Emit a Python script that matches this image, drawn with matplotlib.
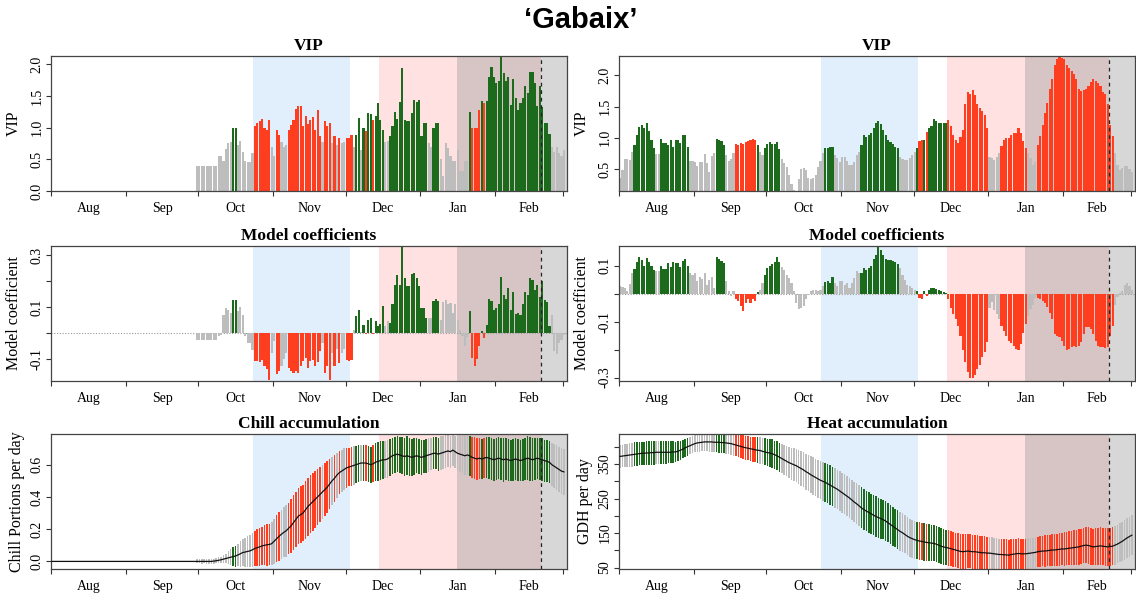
import numpy as np
import matplotlib
matplotlib.use('Agg')
import matplotlib.pyplot as plt

plt.rcParams['font.family'] = ['Liberation Serif', 'DejaVu Serif']

# ---- daily PLS results, day 0 = 1 August, last day = 1 March ----
month_names = ['Aug', 'Sep', 'Oct', 'Nov', 'Dec', 'Jan', 'Feb']
month_starts = [0, 31, 61, 92, 122, 153, 184, 212]

chill_phase = (83.6, 123.8)
forcing_phase = (135.8, 202.9)
bloom_range = (168.0, 213.7)
mean_bloom = 202.9

chill_vip = [
    0, 0, 0, 0, 0, 0, 0, 0, 0, 0,
    0, 0, 0, 0, 0, 0, 0, 0, 0, 0,
    0, 0, 0, 0, 0, 0, 0, 0, 0, 0,
    0, 0, 0, 0, 0, 0, 0, 0, 0, 0,
    0, 0, 0, 0, 0, 0, 0, 0, 0, 0,
    0, 0, 0, 0, 0, 0, 0, 0, 0, 0,
    0.39, 0.39, 0.39, 0.39, 0.39, 0.39, 0.39, 0.39, 0.39, 0.55,
    0.55, 0.48, 0.67, 0.75, 0.78, 1.00, 1.00, 0.72, 0.79, 0.62,
    0.47, 0.45, 0.46, 0.60, 1.03, 1.07, 1.10, 1.13, 1.00, 0.97,
    1.12, 0.70, 0.56, 0.97, 0.88, 0.78, 0.70, 0.73, 0.97, 1.04,
    1.12, 1.30, 1.34, 1.34, 1.02, 1.19, 1.05, 1.12, 1.17, 0.97,
    1.27, 0.87, 0.78, 1.10, 1.02, 1.08, 0.75, 0.87, 0.73, 0.84,
    0.75, 0.78, 0.84, 0.84, 0.88, 0.70, 0.89, 1.15, 0.65, 1.00,
    0.95, 1.23, 1.21, 1.12, 1.18, 1.39, 1.12, 0.97, 0.77, 0.79,
    0.87, 1.02, 1.24, 1.13, 1.40, 1.94, 1.12, 1.10, 1.10, 1.23,
    1.44, 1.41, 1.44, 0.86, 1.07, 1.07, 0.75, 0.70, 0.99, 1.08,
    1.08, 0.50, 0.23, 0.75, 0.68, 0.55, 0.47, 0.47, 0.65, 0.31,
    0.31, 0.47, 0.47, 1.25, 0.99, 0.99, 0.99, 1.28, 1.42, 1.39,
    1.42, 1.80, 1.96, 1.80, 1.71, 1.73, 2.12, 1.86, 1.73, 1.80,
    1.36, 1.76, 1.46, 1.27, 1.39, 1.46, 1.65, 1.54, 1.88, 1.87,
    1.70, 1.34, 1.65, 1.33, 1.07, 1.07, 0.90, 0.70, 0.61, 0.70,
    0.60, 0.55, 0.65,
]

chill_coef = [
    0, 0, 0, 0, 0, 0, 0, 0, 0, 0,
    0, 0, 0, 0, 0, 0, 0, 0, 0, 0,
    0, 0, 0, 0, 0, 0, 0, 0, 0, 0,
    0, 0, 0, 0, 0, 0, 0, 0, 0, 0,
    0, 0, 0, 0, 0, 0, 0, 0, 0, 0,
    0, 0, 0, 0, 0, 0, 0, 0, 0, 0,
    -0.028, -0.028, -0.027, -0.028, -0.028, -0.027, -0.028, -0.028, -0.027, -0.012,
    -0.006, 0.070, 0.096, 0.090, 0.077, 0.127, 0.127, 0.083, 0.100, 0.070,
    -0.010, -0.038, -0.040, -0.067, -0.109, -0.109, -0.113, -0.105, -0.128, -0.140,
    -0.180, -0.077, -0.030, -0.160, -0.147, -0.128, -0.100, -0.077, -0.135, -0.147,
    -0.154, -0.147, -0.154, -0.126, -0.109, -0.096, -0.135, -0.109, -0.103, -0.128,
    -0.113, -0.070, -0.038, -0.154, -0.128, -0.180, -0.077, -0.128, -0.060, -0.115,
    -0.077, -0.060, -0.103, -0.109, -0.103, 0.010, 0.064, 0.090, 0.005, 0.030,
    -0.003, 0.050, 0.057, -0.005, 0.045, 0.028, 0.036, 0.105, 0.028, 0.045,
    0.038, 0.110, 0.186, 0.224, 0.186, 0.336, 0.210, 0.180, 0.180, 0.228,
    0.230, 0.210, 0.180, 0.096, 0.096, 0.058, 0.058, 0.058, 0.122, 0.130,
    0.122, 0.050, 0.120, 0.125, 0.110, 0.115, 0.077, 0.110, 0.050, 0.013,
    -0.013, -0.050, -0.015, 0.083, -0.096, -0.128, -0.100, -0.050, 0.006, -0.020,
    0.032, 0.130, 0.122, 0.090, 0.096, 0.110, 0.215, 0.147, 0.130, 0.173,
    0.090, 0.156, 0.073, 0.077, 0.070, 0.110, 0.156, 0.147, 0.210, 0.205,
    0.164, 0.186, 0.140, 0.200, 0.128, 0.120, 0.028, 0.070, -0.070, -0.083,
    -0.040, -0.026, -0.007,
]

chill_mean = [
    0, 0, 0, 0, 0, 0, 0, 0, 0, 0,
    0, 0, 0, 0, 0, 0, 0, 0, 0, 0,
    0, 0, 0, 0, 0, 0, 0, 0, 0, 0,
    0, 0, 0, 0, 0, 0, 0, 0, 0, 0,
    0, 0, 0, 0, 0, 0, 0, 0, 0, 0,
    0, 0, 0, 0, 0, 0, 0, 0, 0, 0,
    0.0, 0.0, 0.0, 0.0, 0.0, 0.0, 0.0, 0.002, 0.004, 0.007,
    0.010, 0.014, 0.018, 0.022, 0.026, 0.030, 0.033, 0.040, 0.047, 0.055,
    0.058, 0.062, 0.065, 0.072, 0.080, 0.085, 0.090, 0.096, 0.100, 0.103,
    0.105, 0.110, 0.125, 0.140, 0.155, 0.168, 0.180, 0.190, 0.205, 0.220,
    0.240, 0.260, 0.280, 0.290, 0.300, 0.320, 0.340, 0.355, 0.370, 0.385,
    0.400, 0.415, 0.430, 0.445, 0.460, 0.480, 0.500, 0.515, 0.535, 0.550,
    0.560, 0.570, 0.580, 0.585, 0.590, 0.595, 0.600, 0.605, 0.610, 0.610,
    0.610, 0.605, 0.600, 0.605, 0.615, 0.620, 0.625, 0.630, 0.630, 0.635,
    0.645, 0.655, 0.660, 0.665, 0.660, 0.655, 0.650, 0.655, 0.650, 0.645,
    0.650, 0.655, 0.650, 0.645, 0.650, 0.655, 0.660, 0.665, 0.670, 0.670,
    0.665, 0.670, 0.675, 0.680, 0.685, 0.680, 0.690, 0.680, 0.670, 0.665,
    0.660, 0.655, 0.660, 0.655, 0.645, 0.640, 0.635, 0.640, 0.635, 0.640,
    0.645, 0.640, 0.635, 0.630, 0.635, 0.640, 0.635, 0.630, 0.635, 0.630,
    0.625, 0.630, 0.635, 0.630, 0.625, 0.630, 0.635, 0.640, 0.635, 0.630,
    0.635, 0.640, 0.635, 0.630, 0.625, 0.620, 0.615, 0.600, 0.590, 0.580,
    0.570, 0.560, 0.555,
]

chill_sd = [
    0, 0, 0, 0, 0, 0, 0, 0, 0, 0,
    0, 0, 0, 0, 0, 0, 0, 0, 0, 0,
    0, 0, 0, 0, 0, 0, 0, 0, 0, 0,
    0, 0, 0, 0, 0, 0, 0, 0, 0, 0,
    0, 0, 0, 0, 0, 0, 0, 0, 0, 0,
    0, 0, 0, 0, 0, 0, 0, 0, 0, 0,
    0.012, 0.012, 0.013, 0.012, 0.013, 0.013, 0.014, 0.015, 0.016, 0.018,
    0.020, 0.025, 0.030, 0.040, 0.050, 0.060, 0.065, 0.070, 0.080, 0.085,
    0.090, 0.095, 0.100, 0.105, 0.110, 0.115, 0.120, 0.120, 0.125, 0.130,
    0.130, 0.135, 0.140, 0.145, 0.150, 0.150, 0.155, 0.160, 0.160, 0.165,
    0.170, 0.170, 0.175, 0.175, 0.175, 0.180, 0.180, 0.180, 0.180, 0.175,
    0.175, 0.170, 0.170, 0.165, 0.160, 0.155, 0.150, 0.145, 0.140, 0.135,
    0.130, 0.130, 0.125, 0.120, 0.120, 0.120, 0.115, 0.115, 0.110, 0.110,
    0.110, 0.110, 0.112, 0.115, 0.118, 0.120, 0.120, 0.118, 0.115, 0.115,
    0.115, 0.112, 0.110, 0.110, 0.112, 0.115, 0.118, 0.120, 0.118, 0.115,
    0.112, 0.110, 0.110, 0.108, 0.105, 0.105, 0.103, 0.100, 0.100, 0.100,
    0.102, 0.105, 0.105, 0.103, 0.100, 0.100, 0.098, 0.100, 0.105, 0.110,
    0.115, 0.120, 0.125, 0.125, 0.128, 0.130, 0.130, 0.128, 0.125, 0.125,
    0.128, 0.130, 0.132, 0.130, 0.128, 0.130, 0.132, 0.135, 0.132, 0.130,
    0.128, 0.130, 0.132, 0.130, 0.128, 0.130, 0.132, 0.135, 0.135, 0.132,
    0.130, 0.128, 0.130, 0.132, 0.130, 0.130, 0.132, 0.135, 0.138, 0.140,
    0.140, 0.142, 0.142,
]

heat_vip = [
    0.36, 0.49, 0.66, 0.66, 0.64, 0.77, 0.88, 1.05, 1.18, 1.20,
    1.15, 1.23, 1.11, 0.97, 0.84, 0.74, 0.74, 0.98, 0.92, 0.92,
    0.88, 0.97, 0.85, 0.97, 0.97, 0.92, 1.04, 1.04, 0.86, 0.63,
    0.63, 0.62, 0.55, 0.62, 0.62, 0.74, 0.60, 0.45, 0.71, 0.76,
    0.98, 0.96, 0.95, 0.89, 0.73, 0.63, 0.66, 0.76, 0.90, 0.89,
    0.91, 0.90, 0.94, 0.95, 0.97, 0.98, 0.97, 0.89, 0.77, 0.72,
    0.84, 0.90, 0.93, 0.90, 0.90, 0.94, 0.82, 0.66, 0.60, 0.53,
    0.41, 0.26, 0.17, 0.15, 0.34, 0.50, 0.52, 0.48, 0.36, 0.34,
    0.36, 0.40, 0.54, 0.63, 0.76, 0.83, 0.84, 0.85, 0.85, 0.73,
    0.68, 0.62, 0.69, 0.69, 0.63, 0.57, 0.57, 0.62, 0.73, 0.77,
    0.89, 1.04, 1.02, 1.04, 1.08, 1.15, 1.23, 1.27, 1.22, 1.13,
    1.04, 0.97, 0.94, 0.90, 0.86, 0.84, 0.70, 0.66, 0.65, 0.65,
    0.67, 0.72, 0.78, 0.84, 0.95, 0.96, 0.97, 1.10, 1.16, 1.19,
    1.30, 1.27, 1.24, 1.23, 1.24, 1.24, 1.28, 1.19, 1.04, 0.97,
    0.92, 1.02, 1.13, 1.54, 1.73, 1.70, 1.76, 1.68, 1.54, 1.47,
    1.43, 1.36, 1.16, 0.70, 0.68, 0.64, 0.70, 0.75, 0.87, 0.97,
    1.00, 1.00, 1.04, 1.07, 1.07, 1.16, 1.07, 0.95, 0.84, 0.76,
    0.68, 0.57, 0.62, 0.89, 1.03, 1.21, 1.40, 1.56, 1.78, 1.94,
    2.17, 2.26, 2.30, 2.28, 2.26, 2.16, 2.12, 2.07, 2.02, 1.94,
    1.78, 1.75, 1.76, 1.78, 1.83, 1.89, 1.94, 1.91, 1.88, 1.83,
    1.74, 1.70, 1.54, 1.21, 1.03, 0.76, 0.57, 0.49, 0.52, 0.55,
    0.55, 0.50, 0.46,
]

heat_coef = [
    0.026, 0.024, 0.020, 0.008, 0.035, 0.073, 0.087, 0.114, 0.130, 0.120,
    0.100, 0.126, 0.114, 0.100, 0.085, 0.082, 0.082, 0.100, 0.087, 0.087,
    0.108, 0.096, 0.114, 0.108, 0.110, 0.096, 0.118, 0.122, 0.100, 0.073,
    0.067, 0.073, 0.044, 0.059, 0.052, 0.075, 0.032, 0.050, 0.059, 0.020,
    0.130, 0.124, 0.118, 0.108, 0.044, 0.008, -0.010, 0.008, -0.021, -0.027,
    -0.045, -0.062, -0.034, -0.021, -0.035, -0.019, -0.027, 0.005, 0.014, 0.038,
    0.067, 0.090, 0.100, 0.106, 0.114, 0.130, 0.114, 0.096, 0.085, 0.067,
    0.055, 0.038, 0.008, -0.033, -0.056, -0.050, -0.045, -0.021, -0.004, 0.008,
    0.012, 0.014, 0.008, 0.012, 0.026, 0.040, 0.044, 0.036, 0.059, 0.038,
    0.028, 0.044, 0.046, 0.032, 0.038, 0.020, 0.038, 0.055, 0.079, 0.073,
    0.073, 0.090, 0.085, 0.090, 0.100, 0.122, 0.138, 0.167, 0.155, 0.138,
    0.122, 0.120, 0.120, 0.118, 0.114, 0.105, 0.090, 0.067, 0.047, 0.032,
    0.026, 0.020, 0.012, 0.010, -0.015, -0.020, 0.008, -0.007, 0.012, 0.020,
    0.020, 0.016, 0.012, 0.008, 0.005, 0.003, -0.020, -0.050, -0.074, -0.092,
    -0.115, -0.150, -0.200, -0.245, -0.280, -0.300, -0.300, -0.290, -0.270, -0.254,
    -0.227, -0.210, -0.174, -0.050, -0.030, -0.060, -0.074, -0.092, -0.115, -0.133,
    -0.150, -0.168, -0.176, -0.186, -0.198, -0.200, -0.180, -0.140, -0.110, -0.080,
    -0.056, -0.040, -0.015, -0.015, -0.020, -0.027, -0.033, -0.047, -0.068, -0.090,
    -0.145, -0.150, -0.156, -0.170, -0.186, -0.200, -0.197, -0.190, -0.188, -0.190,
    -0.188, -0.174, -0.145, -0.121, -0.118, -0.127, -0.145, -0.168, -0.186, -0.190,
    -0.190, -0.195, -0.190, -0.150, -0.115, -0.040, -0.012, 0.002, 0.008, 0.032,
    0.038, 0.026, 0.014,
]

heat_mean = [
    372, 373, 374, 375, 376, 377, 378, 379, 380, 381,
    381, 382, 382, 383, 383, 384, 384, 384, 384, 384,
    384, 384, 385, 385, 387, 390, 393, 397, 400, 403,
    406, 409, 411, 412, 413, 414, 414, 414, 414, 413,
    413, 413, 412, 412, 411, 410, 409, 407, 405, 403,
    401, 399, 397, 396, 394, 393, 391, 390, 389, 387,
    385, 383, 382, 380, 377, 374, 370, 366, 362, 358,
    354, 351, 348, 345, 341, 337, 333, 328, 324, 319,
    315, 311, 307, 303, 300, 297, 293, 289, 285, 281,
    277, 272, 267, 262, 257, 252, 246, 240, 235, 229,
    223, 218, 214, 210, 206, 202, 198, 195, 192, 189,
    185, 180, 175, 170, 165, 160, 155, 151, 146, 141,
    137, 134, 131, 129, 127, 126, 124, 123, 122, 121,
    120, 118, 115, 112, 110, 108, 107, 105, 103, 101,
    99, 97, 96, 97, 98, 97, 96, 96, 95, 94,
    93, 93, 92, 92, 91, 90, 89, 88, 88, 87,
    87, 86, 88, 89, 90, 91, 90, 90, 90, 91,
    92, 93, 94, 96, 97, 98, 98, 99, 100, 101,
    101, 102, 103, 104, 104, 105, 106, 107, 108, 109,
    110, 112, 114, 115, 114, 112, 110, 111, 112, 113,
    112, 111, 110, 111, 112, 115, 118, 122, 126, 131,
    136, 140, 144,
]

heat_sd = [
    33, 33, 34, 34, 34, 35, 35, 34, 34, 33,
    33, 34, 34, 35, 35, 34, 34, 33, 33, 33,
    32, 32, 31, 30, 29, 28, 27, 26, 26, 25,
    25, 25, 25, 26, 26, 27, 27, 28, 28, 29,
    29, 30, 30, 31, 31, 32, 32, 33, 33, 33,
    34, 34, 34, 35, 35, 36, 36, 37, 38, 38,
    39, 40, 40, 41, 41, 42, 42, 43, 43, 44,
    45, 46, 47, 48, 49, 50, 51, 52, 52, 53,
    54, 54, 55, 55, 56, 56, 56, 57, 57, 57,
    57, 58, 58, 58, 58, 58, 59, 59, 59, 59,
    59, 59, 59, 59, 58, 58, 58, 58, 58, 57,
    57, 57, 57, 56, 56, 56, 56, 56, 55, 55,
    55, 55, 55, 54, 54, 54, 54, 53, 53, 53,
    52, 52, 52, 52, 51, 51, 51, 51, 51, 50,
    50, 50, 50, 50, 50, 49, 49, 49, 48, 48,
    48, 48, 47, 47, 47, 46, 46, 46, 46, 45,
    45, 45, 45, 45, 44, 44, 44, 44, 44, 44,
    44, 44, 44, 44, 44, 44, 45, 45, 45, 46,
    46, 46, 47, 47, 48, 48, 49, 49, 50, 50,
    51, 51, 52, 52, 53, 53, 53, 54, 54, 54,
    54, 55, 55, 55, 55, 56, 56, 57, 57, 58,
    58, 58, 58,
]

GREEN = '#1c6b1c'
RED = '#ff3d1f'
GREY = '#bdbdbd'
XMAX = 213.7


def bar_colors(vip, coef):
    # important days (VIP >= 0.8) coloured by sign of the coefficient
    cols = []
    for v, c in zip(vip, coef):
        if v < 0.8:
            cols.append(GREY)
        elif c > 0:
            cols.append(GREEN)
        else:
            cols.append(RED)
    return cols


def shade(ax):
    ax.axvspan(*chill_phase, color='#e1eefb', lw=0, zorder=0)
    ax.axvspan(*forcing_phase, color='#ffe1e1', lw=0, zorder=0)
    ax.axvspan(*bloom_range, color='#a0a0a0', alpha=0.42, lw=0, zorder=0.5)
    ax.axvline(mean_bloom, color='#222222', ls=(0, (3, 3)), lw=0.9, zorder=3)


def style_axes(ax, title, ylabel, yticks, ylabels, ylim, label_x):
    ax.set_xlim(0, XMAX)
    ax.set_ylim(*ylim)
    ax.set_xticks(month_starts)
    ax.set_xticklabels([])
    mids = [(a + b) / 2 for a, b in zip(month_starts[:-1], month_starts[1:])]
    ax.set_xticks(mids, minor=True)
    ax.set_xticklabels(month_names, minor=True)
    ax.tick_params(axis='x', which='minor', length=0, pad=8, labelsize=10)
    ax.tick_params(axis='x', which='major', length=3.5, width=0.8, color='#333333')
    ax.set_yticks(yticks)
    ax.set_yticklabels(ylabels, rotation=90, va='center')
    ax.tick_params(axis='y', length=3.5, width=0.8, pad=2, labelsize=10, color='#333333')
    for s in ax.spines.values():
        s.set_color('#444444')
        s.set_linewidth(0.9)
    ax.set_title(title, fontweight='bold', fontsize=12.5, pad=4)
    ax.set_ylabel(ylabel, fontsize=11.5)
    ax.yaxis.set_label_coords(label_x, 0.5)


fig = plt.figure(figsize=(11.36, 5.98), dpi=100)
fig.text(0.511, 0.966, '\u2018Gabaix\u2019', ha='center', va='center',
         fontsize=21, fontweight='bold', family='Liberation Sans')

col_left = [0.0449, 0.5449]
row_bottom = [0.6806, 0.3629, 0.0485]
W, H = 0.4542, 0.2258

panels = [
    (chill_vip, chill_coef, chill_mean, chill_sd, 'Chill accumulation', 'Chill Portions per day'),
    (heat_vip, heat_coef, heat_mean, heat_sd, 'Heat accumulation', 'GDH per day'),
]

for col, (vip, coef, mean, sd, acc_title, acc_label) in enumerate(panels):
    days = np.arange(len(vip))
    vip = np.array(vip)
    coef = np.array(coef)
    mean = np.array(mean, dtype=float)
    sd = np.array(sd, dtype=float)
    cols = bar_colors(vip, coef)

    # VIP
    ax = fig.add_axes([col_left[col], row_bottom[0], W, H])
    shade(ax)
    ax.bar(days, vip, width=0.88, align='edge', color=cols, lw=0, zorder=2)
    if col == 0:
        style_axes(ax, 'VIP', 'VIP', [0, 0.5, 1.0, 1.5, 2.0],
                   ['0.0', '0.5', '1.0', '1.5', '2.0'], (0, 2.13), -0.056)
    else:
        style_axes(ax, 'VIP', 'VIP', [0.5, 1.0, 1.5, 2.0],
                   ['0.5', '1.0', '1.5', '2.0'], (0.15, 2.31), -0.056)

    # model coefficients
    ax = fig.add_axes([col_left[col], row_bottom[1], W, H])
    shade(ax)
    ax.axhline(0, color='#999999', ls=(0, (1, 1.5)), lw=0.8, zorder=1)
    ax.bar(days, coef, width=0.88, align='edge', color=cols, lw=0, zorder=2)
    if col == 0:
        style_axes(ax, 'Model coefficients', 'Model coefficient',
                   [-0.1, 0.0, 0.1, 0.2, 0.3], ['-0.1', '', '0.1', '', '0.3'],
                   (-0.185, 0.335), -0.056)
    else:
        style_axes(ax, 'Model coefficients', 'Model coefficient',
                   [-0.3, -0.2, -0.1, 0.0, 0.1], ['-0.3', '', '-0.1', '', '0.1'],
                   (-0.312, 0.17), -0.056)

    # mean daily accumulation with standard deviation
    ax = fig.add_axes([col_left[col], row_bottom[2], W, H])
    shade(ax)
    ax.bar(days + 0.1, 2 * sd, bottom=mean - sd, width=0.65, align='edge',
           color=cols, lw=0, zorder=2)
    ax.plot(days + 0.4, mean, color='#111111', lw=0.9, zorder=4)
    if col == 0:
        style_axes(ax, acc_title, acc_label, [0.0, 0.2, 0.4, 0.6],
                   ['0.0', '0.2', '0.4', '0.6'], (-0.047, 0.79), -0.05)
    else:
        style_axes(ax, acc_title, acc_label, [50, 100, 150, 200, 250, 300, 350, 400],
                   ['50', '', '150', '', '250', '', '350', ''], (46, 437), -0.05)

fig.savefig('out.png', dpi=100)
